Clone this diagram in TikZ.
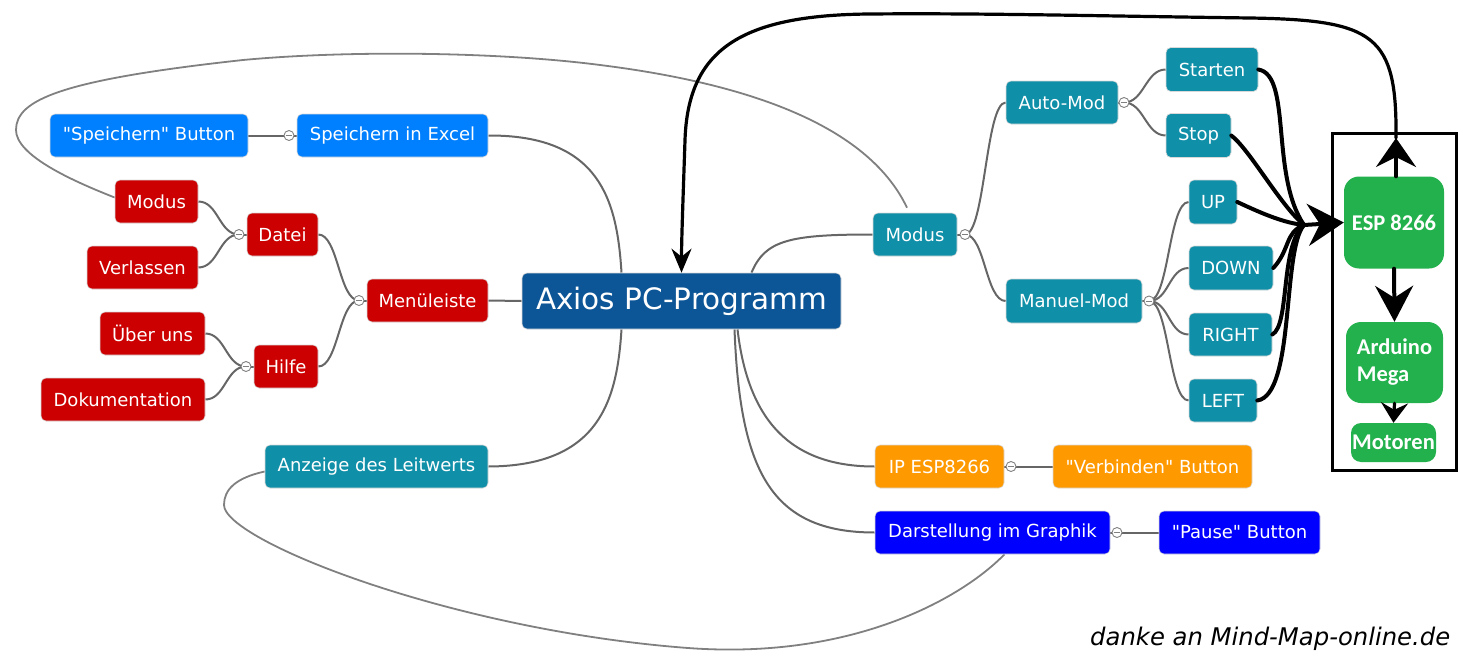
\documentclass[tikz,border=0pt]{standalone}
\usepackage{fontspec}
\setmainfont{DejaVu Sans}[Ligatures=TeXOff]
\newfontfamily\calib{Carlito}
\usepackage{graphicx}
\usetikzlibrary{arrows.meta}
\definecolor{mmred}{HTML}{CC0000}
\definecolor{mmsky}{HTML}{0080FF}
\definecolor{mmteal}{HTML}{108FA8}
\definecolor{mmdark}{HTML}{0C5596}
\definecolor{mmorange}{HTML}{FF9900}
\definecolor{mmblue}{HTML}{0000FF}
\definecolor{mmgreen}{HTML}{22B14C}
\definecolor{mmline}{HTML}{666666}
\definecolor{mmloop}{HTML}{808080}
\pgfdeclarelayer{bg}
\pgfsetlayers{bg,main}
\begin{document}
\begin{tikzpicture}[x=1pt,y=-1pt,
  mmbox/.style={rounded corners=5pt, text=white, inner sep=0pt, minimum height=43pt,
     draw=black!15, line width=0.6pt, font=\fontsize{18}{21}\selectfont},
  redbox/.style={mmbox, fill=mmred},
  skybox/.style={mmbox, fill=mmsky},
  tealbox/.style={mmbox, fill=mmteal},
  orangebox/.style={mmbox, fill=mmorange},
  bluebox/.style={mmbox, fill=mmblue},
  greenbox/.style={fill=mmgreen, text=white, inner sep=0pt,
     font={\calib\fontsize{22.5}{27}\selectfont\bfseries}},
  coll/.style={circle, draw=black!50, fill=white, line width=0.9pt, minimum size=10pt, inner sep=0pt},
  tree/.style={draw=mmline, line width=2pt},
  lconn/.style={tree, out=180, in=0, out distance=20pt, in distance=20pt},
  rconn/.style={tree, out=0, in=180, out distance=20pt, in distance=20pt},
  loopline/.style={draw=mmloop, line width=1.8pt},
  blk/.style={draw=black, line width=4pt, line cap=round},
]
\useasboundingbox (0,0) rectangle (1461,661);

% left nodes
\node[skybox, minimum width=198pt] (spbtn) at (149,135.5) {"Speichern" Button};
\node[skybox, minimum width=191pt] (spex) at (392.5,135.5) {Speichern in Excel};
\node[redbox, minimum width=83pt] (modusr) at (156.5,201.5) {Modus};
\node[redbox, minimum width=71pt] (datei) at (282.5,234.5) {Datei};
\node[redbox, minimum width=111pt] (verl) at (142.5,267.5) {Verlassen};
\node[redbox, minimum width=121pt] (menu) at (427.5,300.5) {Menüleiste};
\node[redbox, minimum width=105pt] (ueber) at (152.5,333.5) {Über uns};
\node[redbox, minimum width=64pt] (hilfe) at (286,366.5) {Hilfe};
\node[redbox, minimum width=164pt] (doku) at (123,399.5) {Dokumentation};
\node[tealbox, minimum width=223pt] (anz) at (376.5,466.5) {Anzeige des Leitwerts};

% centre
\node[mmbox, fill=mmdark, minimum width=319pt, minimum height=56pt,
      font=\fontsize{29.5}{34}\selectfont] (axios) at (681.5,301) {Axios PC-Programm};

% right nodes
\node[tealbox, minimum width=84pt] (modust) at (915,234.5) {Modus};
\node[tealbox, minimum width=112pt] (auto) at (1062,102.5) {Auto-Mod};
\node[tealbox, minimum width=92pt, minimum height=44pt] (starten) at (1212,69.5) {Starten};
\node[tealbox, minimum width=65pt, minimum height=44pt] (stop) at (1198.5,135.5) {Stop};
\node[tealbox, minimum width=136pt, minimum height=44pt] (manuel) at (1074,301) {Manuel-Mod};
\node[tealbox, minimum width=48pt, minimum height=44pt] (up) at (1213,202) {UP};
\node[tealbox, minimum width=84pt, minimum height=44pt] (down) at (1231,268) {DOWN};
\node[tealbox, minimum width=83pt] (right) at (1230.5,334.5) {RIGHT};
\node[tealbox, minimum width=68pt] (left) at (1223,400.5) {LEFT};
\node[orangebox, minimum width=129pt] (ip) at (939.5,466.5) {IP ESP8266};
\node[orangebox, minimum width=199pt] (verb) at (1152.5,466.5) {"Verbinden" Button};
\node[bluebox, minimum width=235pt] (dar) at (992.5,532.5) {Darstellung im Graphik};
\node[bluebox, minimum width=161pt] (pause) at (1239.5,532.5) {"Pause" Button};

% hardware block
\draw[line width=3pt] (1332,133) rectangle (1456,470);
\node[greenbox, rounded corners=15pt, minimum width=100pt, minimum height=92pt] (esp) at (1394,222.5) {ESP 8266};
\node[greenbox, rounded corners=15pt, minimum width=97pt, minimum height=81pt, align=left] (ard) at (1394.5,362.5) {Arduino\\Mega};
\node[greenbox, rounded corners=10pt, minimum width=85pt, minimum height=39pt] (mot) at (1393.5,442.5) {Motoren};

% collapse circles
\node[coll] (csp) at (289,135.5) {};
\node[coll] (cdatei) at (239,234.5) {};
\node[coll] (chilfe) at (246,366.5) {};
\node[coll] (cmenu) at (359,300.5) {};
\node[coll] (cmodust) at (965,234.5) {};
\node[coll] (cauto) at (1124,102.5) {};
\node[coll] (cmanuel) at (1149,301) {};
\node[coll] (cip) at (1011,466.5) {};
\node[coll] (cdar) at (1117,532.5) {};
\foreach \c in {csp,cdatei,chilfe,cmenu,cmodust,cauto,cmanuel,cip,cdar}
  \draw[black!50, line width=0.9pt] ([xshift=2pt]\c.west) -- ([xshift=-2pt]\c.east);

\coordinate (conv) at (1304,225);
\coordinate (esptip) at (1396,138);

\begin{pgfonlayer}{bg}
% left subtree
\draw[tree] (spex.west) -- (csp) -- (spbtn.east);
\draw[tree] (datei.west) -- (cdatei);
\draw[lconn] (cdatei.center) to (modusr.east);
\draw[lconn] (cdatei.center) to (verl.east);
\draw[tree] (hilfe.west) -- (chilfe);
\draw[lconn] (chilfe.center) to (ueber.east);
\draw[lconn] (chilfe.center) to (doku.east);
\draw[tree] (menu.west) -- (cmenu);
\draw[lconn] (cmenu.center) to (datei.east);
\draw[lconn] (cmenu.center) to (hilfe.east);
% trunk
\draw[tree] (axios.west) -- (menu.east);
\draw[tree] (spex.east) .. controls (600,135) and (617,200) .. ([xshift=-60pt]axios.north);
\draw[tree] (anz.east) .. controls (600,466) and (617,400) .. ([xshift=-60pt]axios.south);
\draw[tree] ([xshift=70pt]axios.north) .. controls (765,240) and (790,234.5) .. (modust.west);
\draw[tree] ([xshift=56pt]axios.south) .. controls (748,420) and (790,466.5) .. (ip.west);
\draw[tree] ([xshift=53pt]axios.south) .. controls (740,470) and (770,532.5) .. (dar.west);
% right subtree
\draw[tree] (modust.east) -- (cmodust);
\draw[rconn] (cmodust.center) to (auto.west);
\draw[rconn] (cmodust.center) to (manuel.west);
\draw[tree] (auto.east) -- (cauto);
\draw[rconn] (cauto.center) to (starten.west);
\draw[rconn] (cauto.center) to (stop.west);
\draw[tree] (manuel.east) -- (cmanuel);
\draw[rconn] (cmanuel.center) to (up.west);
\draw[rconn] (cmanuel.center) to (down.west);
\draw[rconn] (cmanuel.center) to (right.west);
\draw[rconn] (cmanuel.center) to (left.west);
\draw[tree] (ip.east) -- (cip) -- (verb.west);
\draw[tree] (dar.east) -- (cdar) -- (pause.west);
% loops
\draw[loopline] ([yshift=4pt]modusr.west) .. controls (70,180) and (16,155) .. (16,130)
   .. controls (16,100) and (60,80) .. (243,60)
   .. controls (350,50) and (500,52) .. (600,65)
   .. controls (760,85) and (870,130) .. ([xshift=-8pt,yshift=5pt]modust.north);
\draw[loopline] ([yshift=-5pt]anz.west) .. controls (235,478) and (224,490) .. (224,505)
   .. controls (224,540) and (450,630) .. (688,648)
   .. controls (850,660) and (960,600) .. ([xshift=12pt]dar.south);
\end{pgfonlayer}

% black arrows
\draw[blk] (starten.east) .. controls (1292,75) and (1270,175) .. (conv);
\draw[blk] (stop.east) .. controls (1250,150) and (1280,205) .. (conv);
\draw[blk] (up.east) .. controls (1265,215) and (1285,223) .. (conv);
\draw[blk] (down.east) .. controls (1290,250) and (1285,232) .. (conv);
\draw[blk] (right.east) .. controls (1290,325) and (1280,245) .. (conv);
\draw[blk] (left.east) .. controls (1295,395) and (1282,250) .. (conv);
\draw[blk, -{Stealth[length=36pt,width=42pt,inset=12pt]}] (conv) -- (esp.west);
\draw[blk, -{Stealth[length=29pt,width=40pt,inset=10pt]}] ([xshift=2pt]esp.north) -- (esptip);
\draw[blk, line width=3.2pt, -{Stealth[length=24pt,width=20pt,inset=8pt]}] (esptip)
   .. controls (1397,35) and (1375,20) .. (1250,18)
   .. controls (1100,16) and (980,13) .. (870,14)
   .. controls (740,15) and (688,50) .. (685,140)
   .. controls (683,200) and (681.5,240) .. (axios.north);
\draw[blk, -{Stealth[length=36pt,width=38pt,inset=12pt]}] (esp.south) -- (ard.north);
\draw[blk, line width=3.2pt, -{Stealth[length=20pt,width=27pt,inset=7pt]}] (ard.south) -- (mot.north);

% credit
\node[anchor=base west, inner sep=0pt] (credit) at (1090,645)
  {\resizebox{360pt}{!}{\fontsize{20}{24}\selectfont\itshape danke an Mind-Map-online.de}};
\end{tikzpicture}
\end{document}
